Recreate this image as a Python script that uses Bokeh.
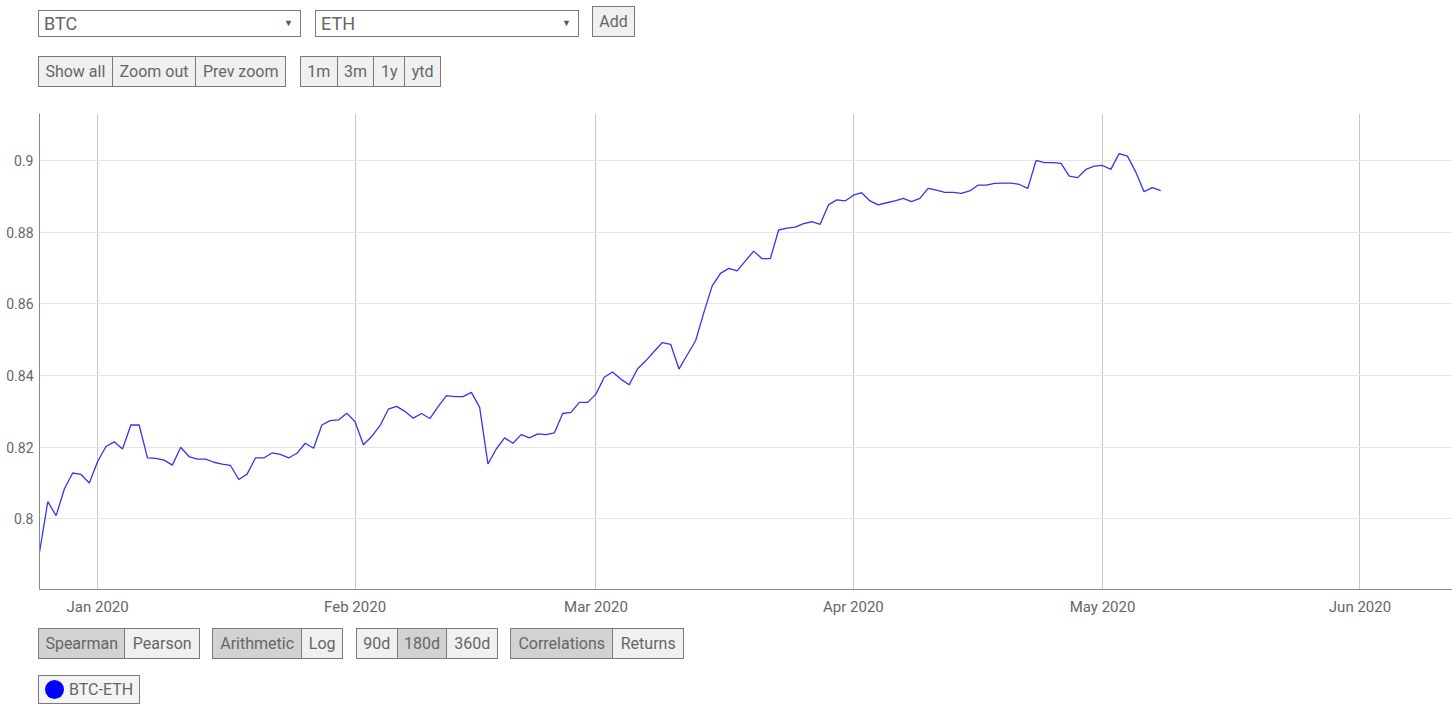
from datetime import datetime, timedelta

import pandas as pd
from bokeh.plotting import figure
from bokeh.layouts import column
from bokeh.models import (Div, Range1d, FixedTicker, NumeralTickFormatter,
                          DatetimeTickFormatter, ColumnDataSource)
from bokeh.embed import file_html
from bokeh.resources import INLINE

# ---------------- data ----------------
series_name = "BTC-ETH"
start_date = "2019-12-25"

dec_vals = [0.7907, 0.8048, 0.8009, 0.8084, 0.8128, 0.8124, 0.8100]
jan_vals = [0.8160, 0.8202, 0.8215, 0.8195, 0.8262, 0.8262, 0.8170, 0.8169, 0.8164, 0.8150,
            0.8200, 0.8174, 0.8167, 0.8167, 0.8158, 0.8153, 0.8149, 0.8110, 0.8125, 0.8170,
            0.8170, 0.8184, 0.8180, 0.8170, 0.8183, 0.8211, 0.8197, 0.8262, 0.8274, 0.8276,
            0.8295]
feb_vals = [0.8271, 0.8207, 0.8230, 0.8260, 0.8306, 0.8314, 0.8300, 0.8281, 0.8294, 0.8280,
            0.8313, 0.8344, 0.8341, 0.8341, 0.8353, 0.8311, 0.8153, 0.8195, 0.8226, 0.8211,
            0.8235, 0.8226, 0.8237, 0.8235, 0.8240, 0.8294, 0.8297, 0.8325, 0.8325]
mar_vals = [0.8348, 0.8395, 0.8410, 0.8390, 0.8374, 0.8418, 0.8441, 0.8467, 0.8492, 0.8487,
            0.8418, 0.8458, 0.8497, 0.8576, 0.8650, 0.8685, 0.8699, 0.8692, 0.8720, 0.8747,
            0.8726, 0.8726, 0.8806, 0.8811, 0.8814, 0.8824, 0.8829, 0.8822, 0.8876, 0.8890,
            0.8887]
apr_vals = [0.8903, 0.8910, 0.8887, 0.8876, 0.8882, 0.8887, 0.8894, 0.8885, 0.8894, 0.8922,
            0.8917, 0.8911, 0.8911, 0.8908, 0.8915, 0.8931, 0.8931, 0.8936, 0.8937, 0.8937,
            0.8933, 0.8922, 0.9000, 0.8994, 0.8994, 0.8992, 0.8956, 0.8952, 0.8975, 0.8984]
may_vals = [0.8986, 0.8975, 0.9019, 0.9012, 0.8968, 0.8913, 0.8924, 0.8916]

values = dec_vals + jan_vals + feb_vals + mar_vals + apr_vals + may_vals
dates = pd.date_range(start_date, periods=len(values), freq="D")

month_ticks = ["2020-01-01", "2020-02-01", "2020-03-01", "2020-04-01", "2020-05-01", "2020-06-01"]
y_ticks = [0.80, 0.82, 0.84, 0.86, 0.88, 0.90]

pair_labels = ["BTC", "ETH"]
zoom_buttons = ["Show all", "Zoom out", "Prev zoom"]
range_buttons = ["1m", "3m", "1y", "ytd"]
method_buttons = ["Spearman", "Pearson"]
scale_buttons = ["Arithmetic", "Log"]
window_buttons = ["90d", "180d", "360d"]
view_buttons = ["Correlations", "Returns"]

# ---------------- styles ----------------
FONT = "Roboto"
TXT = "#666666"
BORDER = "#7a7a7a"
BG = "#f0f0f0"
BG_ACTIVE = "#d2d2d2"
PAGE_W = 1452
TOP_H = 100
FIG_H = 519
BOT_H = 88


def button_group(edges, top, height, labels, active=()):
    left = edges[0]
    width = edges[-1] - edges[0]
    h = [f'<div style="position:absolute;left:{left}px;top:{top}px;width:{width}px;'
         f'height:{height}px;box-sizing:border-box;border:1px solid {BORDER};display:flex;">']
    for i, lab in enumerate(labels):
        w = edges[i + 1] - edges[i] - (1 if i == 0 else 0)
        bg = BG_ACTIVE if lab in active else BG
        bl = f"border-left:1px solid {BORDER};" if i > 0 else ""
        h.append(f'<div style="width:{w}px;height:{height-2}px;box-sizing:border-box;{bl}'
                 f'background:{bg};color:{TXT};font-family:{FONT};font-size:16px;'
                 f'line-height:{height-2}px;text-align:center;white-space:nowrap;">{lab}</div>')
    h.append("</div>")
    return "".join(h)


def select_box(x0, x1, top, height, label):
    return (f'<div style="position:absolute;left:{x0}px;top:{top}px;width:{x1-x0}px;'
            f'height:{height}px;box-sizing:border-box;border:1px solid {BORDER};background:#fff;'
            f'font-family:{FONT};color:{TXT};">'
            f'<span style="position:absolute;left:5px;top:0;line-height:{height-2}px;font-size:18px;">{label}</span>'
            f'<span style="position:absolute;right:7px;top:0;line-height:{height-2}px;font-size:9px;color:#555;">&#9660;</span>'
            f'</div>')


top_html = [f'<div style="position:relative;width:{PAGE_W}px;height:{TOP_H}px;">']
top_html.append(select_box(38, 301, 10, 27, pair_labels[0]))
top_html.append(select_box(315, 579, 10, 27, pair_labels[1]))
top_html.append(f'<div style="position:absolute;left:592px;top:6px;width:43px;height:31px;'
                f'box-sizing:border-box;border:1px solid {BORDER};background:{BG};color:{TXT};'
                f'font-family:{FONT};font-size:16px;line-height:29px;text-align:center;">Add</div>')
top_html.append(button_group([38, 112, 196, 286], 56, 31, zoom_buttons))
top_html.append(button_group([300, 337, 374, 405, 441], 56, 31, range_buttons))
top_html.append("</div>")
top_div = Div(text="".join(top_html), width=PAGE_W, height=TOP_H, margin=0)

# ---------------- figure ----------------
x0 = datetime(2019, 12, 25)
x1 = x0 + timedelta(days=170.14)

p = figure(width=PAGE_W, height=FIG_H, x_axis_type="datetime",
           x_range=Range1d(x0, x1), y_range=Range1d(0.7803, 0.9131),
           output_backend="svg", toolbar_location=None,
           min_border_left=39, min_border_right=0, min_border_top=13, min_border_bottom=30)
p.outline_line_color = None
p.background_fill_color = "white"
p.border_fill_color = "white"

src = ColumnDataSource(dict(date=dates, value=values))
p.line("date", "value", source=src, line_color="#3535ee", line_width=1.3)

p.xaxis.ticker = FixedTicker(ticks=[pd.Timestamp(t).value / 1e6 for t in month_ticks])
fmt = "%b %Y"
p.xaxis.formatter = DatetimeTickFormatter(days=fmt, months=fmt, years=fmt, hours=fmt,
                                          hourmin=fmt, minutes=fmt, minsec=fmt, seconds=fmt,
                                          milliseconds=fmt, microseconds=fmt)
p.yaxis.ticker = FixedTicker(ticks=y_ticks)
p.yaxis.formatter = NumeralTickFormatter(format="0.[00]")

for ax in (p.xaxis[0], p.yaxis[0]):
    ax.major_tick_line_color = None
    ax.minor_tick_line_color = None
    ax.major_tick_out = 0
    ax.major_tick_in = 0
    ax.minor_tick_out = 0
    ax.minor_tick_in = 0
    ax.major_label_text_font = FONT
    ax.major_label_text_color = TXT
    ax.axis_line_color = "#888888"
p.xaxis.major_label_text_font_size = "15px"
p.yaxis.major_label_text_font_size = "14px"
p.xaxis.major_label_standoff = 8
p.yaxis.major_label_standoff = 6

p.xgrid.grid_line_color = "#c8c8c8"
p.xgrid.grid_line_width = 1
p.ygrid.grid_line_color = "#e6e6e6"

# ---------------- bottom controls ----------------
Y0 = TOP_H + FIG_H
bot_html = [f'<div style="position:relative;width:{PAGE_W}px;height:{BOT_H}px;">']
bot_html.append(button_group([38, 125, 200], 628 - Y0, 31, method_buttons, active=("Spearman",)))
bot_html.append(button_group([212, 302, 343], 628 - Y0, 31, scale_buttons, active=("Arithmetic",)))
bot_html.append(button_group([356, 397, 447, 498], 628 - Y0, 31, window_buttons, active=("180d",)))
bot_html.append(button_group([510, 613, 684], 628 - Y0, 31, view_buttons, active=("Correlations",)))
bot_html.append(f'<div style="position:absolute;left:38px;top:{675 - Y0}px;width:102px;height:29px;'
                f'box-sizing:border-box;border:1px solid {BORDER};background:#f4f4f4;">'
                f'<div style="position:absolute;left:6px;top:4px;width:19px;height:19px;border-radius:50%;background:#0000ff;"></div>'
                f'<span style="position:absolute;left:30px;top:0;line-height:27px;font-family:{FONT};'
                f'font-size:16px;color:{TXT};">{series_name}</span></div>')
bot_html.append("</div>")
bot_div = Div(text="".join(bot_html), width=PAGE_W, height=BOT_H, margin=0)

layout = column(top_div, p, bot_div, spacing=0)

open("out.html", "w").write(file_html(layout, INLINE))
